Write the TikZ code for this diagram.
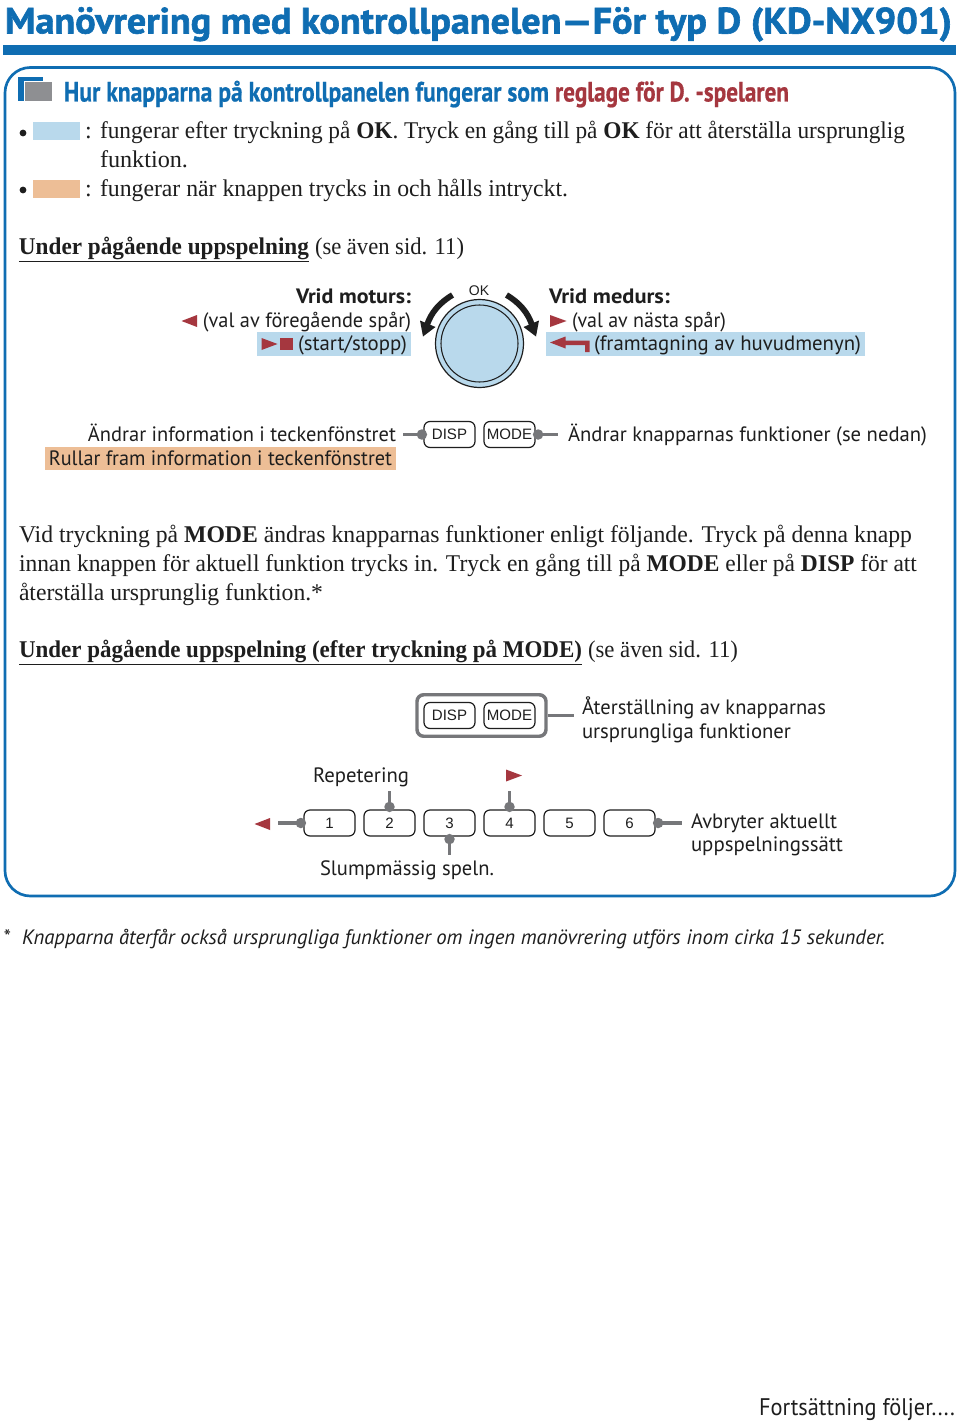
\documentclass[tikz,border=0pt]{standalone}
\usepackage{fontspec}
\usepackage{graphicx}
\setmainfont{Liberation Serif}
\setsansfont{PT Sans}
\newfontfamily\btnfont{Liberation Sans}
\newfontfamily\titlefont[BoldFeatures={FakeBold=1.6}]{PT Sans}
\newfontfamily\subfont[BoldFeatures={FakeBold=0.7}]{PT Sans}
\newdimen\px \px=0.75pt
\newcommand{\wfit}[2]{\resizebox{#1\px}{\height}{#2}}
\definecolor{brandblue}{HTML}{0F6DB2}
\definecolor{softblue}{HTML}{B9D9EC}
\definecolor{softorange}{HTML}{EDBE96}
\definecolor{leadgray}{HTML}{76777A}
\definecolor{iconGray}{HTML}{8E8F92}
\definecolor{maroon}{HTML}{A5373F}
\definecolor{ink}{HTML}{1E1E1E}
\tikzset{
  txt/.style={anchor=base west,inner sep=0pt,outer sep=0pt,text=ink},
  rtxt/.style={anchor=base east,inner sep=0pt,outer sep=0pt,text=ink},
  serif/.style={font=\rmfamily\fontsize{18pt}{21pt}\selectfont},
  sans/.style={font=\sffamily\fontsize{15.6pt}{18pt}\selectfont},
  btn/.style={draw=ink,line width=0.9pt,rounded corners=4.5pt,fill=white,minimum width=51\px,minimum height=26\px,inner sep=0pt,
    font=\btnfont\fontsize{11.3pt}{13pt}\selectfont,text=ink},
  leader/.style={draw=leadgray,line width=2.6pt},
  dotmark/.style={circle,fill=leadgray,minimum size=10.5\px,inner sep=0pt},
  glyph/.style={fill=maroon},
}
\begin{document}
\begin{tikzpicture}[x=0.75pt,y=-0.75pt]
\useasboundingbox (0,0) rectangle (960,1423);
\fill[white] (0,0) rectangle (960,1423);
% title
\node[txt,text=brandblue,font=\titlefont\bfseries\fontsize{27.5pt}{30pt}\selectfont] (title) at (5,33.5) {\wfit{947}{Manövrering med kontrollpanelen—För typ D (KD-NX901)}};
\fill[brandblue] (3,45) rectangle (956,55);
\draw[brandblue,line width=2pt,rounded corners=19pt] (5,67.5) rectangle (955,896);
% subtitle
\fill[brandblue] (18,77) rectangle (43,101);
\fill[white] (24,81) rectangle (52,102);
\fill[iconGray] (25,82) rectangle (52,101);
\node[txt,text=brandblue,font=\subfont\bfseries\fontsize{21pt}{24pt}\selectfont] (subA) at (64,101.5) {\wfit{485}{Hur knapparna på kontrollpanelen fungerar som}};
\node[txt,text=maroon,font=\subfont\bfseries\fontsize{21pt}{24pt}\selectfont] (subB) at (555,101.5) {\wfit{234}{reglage för D. -spelaren}};
% legend
\fill[ink] (23,133) circle (3.4);
\fill[softblue] (33,122) rectangle (80,140);
\node[txt,serif] (colA) at (85,139) {:};
\node[txt,serif] (legA) at (100,139) {\wfit{805}{fungerar efter tryckning på \textbf{OK}. Tryck en gång till på \textbf{OK} för att återställa ursprunglig}};
\node[txt,serif] (legB) at (100,168) {\wfit{88}{funktion.}};
\fill[ink] (23,190) circle (3.4);
\fill[softorange] (33,180) rectangle (80,198);
\node[txt,serif] (colB) at (85,197) {:};
\node[txt,serif] (legC) at (100,197) {\wfit{468}{fungerar när knappen trycks in och hålls intryckt.}};
\node[txt,serif] (headA) at (19,254) {\wfit{290}{\underline{\textbf{Under pågående uppspelning}}}};
\node[txt,serif] (headAb) at (315,254) {\wfit{149}{(se även sid. 11)}};
% highlights
\fill[softblue] (257,332) rectangle (411,356);
\fill[softblue] (546,332) rectangle (865,356);
\fill[softorange] (45,447) rectangle (396,470);
% left of dial
\node[rtxt,sans] (ccwA) at (411,303) {\wfit{115}{\textbf{Vrid moturs:}}};
\node[rtxt,sans] (ccwB) at (411,327) {\wfit{208}{(val av föregående spår)}};
\node[rtxt,sans] (ccwC) at (407,350) {\wfit{109}{(start/stopp)}};
\fill[glyph] (181.5,321) -- (197,315) -- (197,327) -- cycle;
\fill[glyph] (277.5,344) -- (261.5,338) -- (261.5,350) -- cycle;
\fill[glyph] (280,338) rectangle (292.5,350);
% dial
\node[circle,draw=ink,fill=softblue,line width=0.9pt,minimum size=88\px,inner sep=0pt] (dial) at (479.5,343.5) {};
\node[circle,draw=ink,line width=0.8pt,minimum size=77\px,inner sep=0pt] (dialin) at (dial.center) {};
\node[btn,draw=none,fill=none,minimum width=0pt,minimum height=0pt,font=\btnfont\fontsize{10.5pt}{12pt}\selectfont] (ok) at (479,291) {OK};
\draw[ink,line width=4.4pt] (452.5,295) .. controls (439,303) and (431,313) .. (427,325);
\fill[ink] (423,336.5) -- (420,320.5) -- (435.5,327) -- cycle;
\draw[ink,line width=4.4pt] (506.5,295) .. controls (520,303) and (528,313) .. (532,325);
\fill[ink] (536,336.5) -- (539,320.5) -- (523.5,327) -- cycle;
% right of dial
\node[txt,sans] (cwA) at (549,303) {\wfit{121}{\textbf{Vrid medurs:}}};
\node[txt,sans] (cwB) at (572,327) {\wfit{154}{(val av nästa spår)}};
\node[txt,sans] (cwC) at (594,350) {\wfit{267}{(framtagning av huvudmenyn)}};
\fill[glyph] (566.5,321) -- (550,315) -- (550,327) -- cycle;
\fill[glyph] (550,342.5) -- (565.5,336.5) -- (565.5,340.7) -- (589.5,340.7) -- (589.5,352) -- (585,352) -- (585,345) -- (565.5,345) -- (565.5,348.5) -- cycle;
% DISP MODE row
\node[rtxt,sans] (infoA) at (396,441) {\wfit{308}{Ändrar information i teckenfönstret}};
\node[rtxt,sans] (infoB) at (392,465) {\wfit{343}{Rullar fram information i teckenfönstret}};
\node[txt,sans] (infoC) at (568,441) {\wfit{359}{Ändrar knapparnas funktioner (se nedan)}};
\node[btn] (dispA) at (449.5,434.5) {DISP};
\node[btn] (modeA) at (509.5,434.5) {MODE};
\coordinate (endDisp) at (403,434.5);
\coordinate (endMode) at (558,434.5);
\draw[leader] (dispA.west) -- (endDisp);
\draw[leader] (modeA.east) -- (endMode);
\node[dotmark,xshift=-1.5\px] at (dispA.west) {};
\node[dotmark,xshift=2.5\px] at (modeA.east) {};
% paragraph
\node[txt,serif] (paraA) at (19,542) {\wfit{893}{Vid tryckning på \textbf{MODE} ändras knapparnas funktioner enligt följande. Tryck på denna knapp}};
\node[txt,serif] (paraB) at (19,571) {\wfit{898}{innan knappen för aktuell funktion trycks in. Tryck en gång till på \textbf{MODE} eller på \textbf{DISP} för att}};
\node[txt,serif] (paraC) at (19,600) {\wfit{304}{återställa ursprunglig funktion.*}};
\node[txt,serif] (headB) at (19,657) {\wfit{563}{\underline{\textbf{Under pågående uppspelning (efter tryckning på MODE)}}}};
\node[txt,serif] (headBb) at (588,657) {\wfit{150}{(se även sid. 11)}};
% grouped DISP MODE
\node[draw=leadgray,line width=2.6pt,rounded corners=5pt,minimum width=129\px,minimum height=41.5\px,inner sep=0pt] (group) at (481.5,715.5) {};
\node[btn] (dispB) at (449.5,715.5) {DISP};
\node[btn] (modeB) at (509.5,715.5) {MODE};
\coordinate (endGroup) at (574,715.5);
\draw[leader] (group.east) -- (endGroup);
\node[txt,sans] (resetA) at (582,714) {\wfit{244}{Återställning av knapparnas}};
\node[txt,sans] (resetB) at (582,738) {\wfit{209}{ursprungliga funktioner}};
% number row
\node[btn] (n1) at (329.5,823) {1};
\node[btn] (n2) at (389.5,823) {2};
\node[btn] (n3) at (449.5,823) {3};
\node[btn] (n4) at (509.5,823) {4};
\node[btn] (n5) at (569.5,823) {5};
\node[btn] (n6) at (629.5,823) {6};
\coordinate (end1) at (278,823);
\coordinate (end2) at (389.5,790.5);
\coordinate (end3) at (449.5,855);
\coordinate (end4) at (509.5,790.5);
\coordinate (end6) at (682,823);
\draw[leader] (n1.west) -- (end1);
\draw[leader] (n2.north) -- (end2);
\draw[leader] (n3.south) -- (end3);
\draw[leader] (n4.north) -- (end4);
\draw[leader] (n6.east) -- (end6);
\node[dotmark,xshift=-2.5\px] at (n1.west) {};
\node[dotmark,yshift=2.5\px] at (n2.north) {};
\node[dotmark,yshift=-2.5\px] at (n3.south) {};
\node[dotmark,yshift=2.5\px] at (n4.north) {};
\node[dotmark,xshift=2.5\px] at (n6.east) {};
\fill[glyph] (254.5,824) -- (270,818) -- (270,830) -- cycle;
\fill[glyph] (522,775.5) -- (506,769.5) -- (506,781.5) -- cycle;
\node[txt,sans] (rep) at (313,782.5) {\wfit{96}{Repetering}};
\node[txt,sans] (rnd) at (320,875) {\wfit{174}{Slumpmässig speln.}};
\node[txt,sans] (canA) at (691,828) {\wfit{146}{Avbryter aktuellt}};
\node[txt,sans] (canB) at (691,851) {\wfit{152}{uppspelningssätt}};
% footnote
\node[txt,font=\sffamily\itshape\fontsize{15.6pt}{18pt}\selectfont] (star) at (3,944) {*};
\node[txt,font=\sffamily\itshape\fontsize{15.6pt}{18pt}\selectfont] (note) at (22,944) {\wfit{863}{Knapparna återfår också ursprungliga funktioner om ingen manövrering utförs inom cirka 15 sekunder.}};
\node[txt,font=\sffamily\fontsize{18pt}{20pt}\selectfont] (cont) at (759,1415) {\wfit{196}{Fortsättning följer....}};
\end{tikzpicture}
\end{document}
